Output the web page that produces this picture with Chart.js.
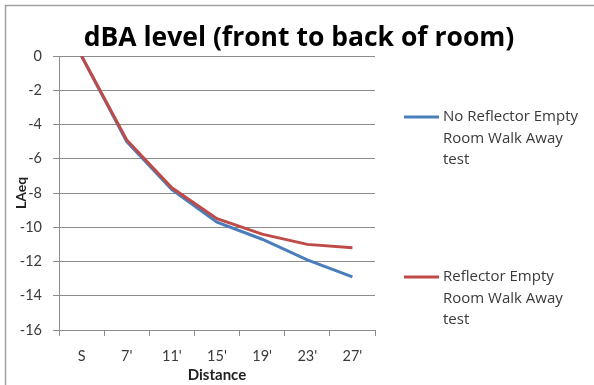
<!DOCTYPE html>
<html>
<head>
<meta charset="utf-8">
<script src="https://cdn.jsdelivr.net/npm/chart.js@4.4.1/dist/chart.umd.min.js"></script>
<style>
  html, body { margin: 0; padding: 0; background: #ffffff; }
  #wrap { width: 594px; height: 385px; }
</style>
</head>
<body>
<div id="wrap"><canvas id="c" width="594" height="385"></canvas></div>
<script>
// Measurement positions along the room
const distances = ["S", "7'", "11'", "15'", "19'", "23'", "27'"];

// LAeq relative to the starting position (dB)
const noReflector = [0, -5.0, -7.8, -9.7, -10.7, -11.9, -12.9];
const withReflector = [0, -4.9, -7.7, -9.5, -10.4, -11.0, -11.2];

const seriesNames = [
  "No Reflector Empty Room Walk Away test",
  "Reflector Empty Room Walk Away test"
];

const chartTitle = "dBA level (front to back of room)";
const yAxisTitle = "LAeq";
const xAxisTitle = "Distance";

const FONT = "Lato, 'Liberation Sans', sans-serif";
const WIDE_FONT = "'Open Sans', 'DejaVu Sans', sans-serif";
const TEXT = "#3a3a3a";
const GRID = "#8c8c8c";

// Frame, title and the side legend with wrapped entries
const decorations = {
  id: "decorations",
  beforeDraw(chart) {
    const ctx = chart.ctx;
    ctx.save();
    ctx.fillStyle = "#ffffff";
    ctx.fillRect(0, 0, chart.width, chart.height);
    ctx.strokeStyle = "#a0a0a0";
    ctx.lineWidth = 1.5;
    ctx.strokeRect(5.5, 5.5, chart.width + 20, chart.height + 20);
    ctx.restore();
  },
  afterDraw(chart) {
    const ctx = chart.ctx;
    ctx.save();
    // title
    ctx.fillStyle = "#000000";
    ctx.font = "bold 26.5px " + WIDE_FONT;
    ctx.textAlign = "center";
    ctx.textBaseline = "alphabetic";
    ctx.fillText(chartTitle, 299, 46);

    // legend
    const legendY = [117, 277];
    ctx.font = "15px " + WIDE_FONT;
    ctx.textAlign = "left";
    ctx.textBaseline = "middle";
    chart.data.datasets.forEach((ds, i) => {
      const y = legendY[i];
      ctx.strokeStyle = ds.borderColor;
      ctx.lineWidth = 3;
      ctx.beginPath();
      ctx.moveTo(404, y);
      ctx.lineTo(439, y);
      ctx.stroke();
      // word wrap
      const words = ds.label.split(" ");
      const lines = [];
      let cur = "";
      words.forEach(w => {
        const t = cur ? cur + " " + w : w;
        if (ctx.measureText(t).width > 138 && cur) {
          lines.push(cur);
          cur = w;
        } else {
          cur = t;
        }
      });
      if (cur) lines.push(cur);
      ctx.fillStyle = TEXT;
      lines.forEach((ln, k) => ctx.fillText(ln, 443, y + k * 21.5));
    });
    ctx.restore();
  }
};

new Chart(document.getElementById("c"), {
  type: "line",
  data: {
    labels: distances,
    datasets: [
      {
        label: seriesNames[0],
        data: noReflector,
        borderColor: "#4a7ebb",
        borderWidth: 3,
        pointRadius: 0,
        tension: 0,
        order: 1
      },
      {
        label: seriesNames[1],
        data: withReflector,
        borderColor: "#be4b48",
        borderWidth: 3,
        pointRadius: 0,
        tension: 0,
        order: 0
      }
    ]
  },
  options: {
    responsive: false,
    animation: false,
    devicePixelRatio: 1,
    layout: { padding: { top: 56, right: 219, bottom: 0, left: 0 } },
    plugins: {
      legend: { display: false },
      title: { display: false },
      tooltip: { enabled: false }
    },
    scales: {
      x: {
        type: "category",
        offset: true,
        grid: {
          offset: true,
          drawOnChartArea: false,
          drawTicks: true,
          tickLength: 6,
          color: GRID
        },
        border: { color: GRID, width: 1 },
        ticks: {
          padding: 12,
          color: TEXT,
          font: { family: FONT, size: 14.5 },
          maxRotation: 0,
          autoSkip: false
        },
        title: {
          display: true,
          text: xAxisTitle,
          color: "#222222",
          font: { family: FONT, size: 15, weight: "bold" },
          padding: { top: 0, bottom: 1 }
        },
        afterFit(scale) { scale.height = 55; }
      },
      y: {
        min: -16,
        max: 0,
        grid: {
          color: GRID,
          lineWidth: 1,
          drawTicks: true,
          tickLength: 6
        },
        border: { color: GRID, width: 1 },
        ticks: {
          stepSize: 2,
          padding: 11,
          color: TEXT,
          font: { family: FONT, size: 14.5 }
        },
        title: {
          display: true,
          text: yAxisTitle,
          color: "#222222",
          font: { family: FONT, size: 14, weight: "bold" },
          padding: { top: 13, bottom: 0 }
        },
        afterFit(scale) { scale.width = 59; }
      }
    }
  },
  plugins: [decorations]
});
</script>
</body>
</html>
